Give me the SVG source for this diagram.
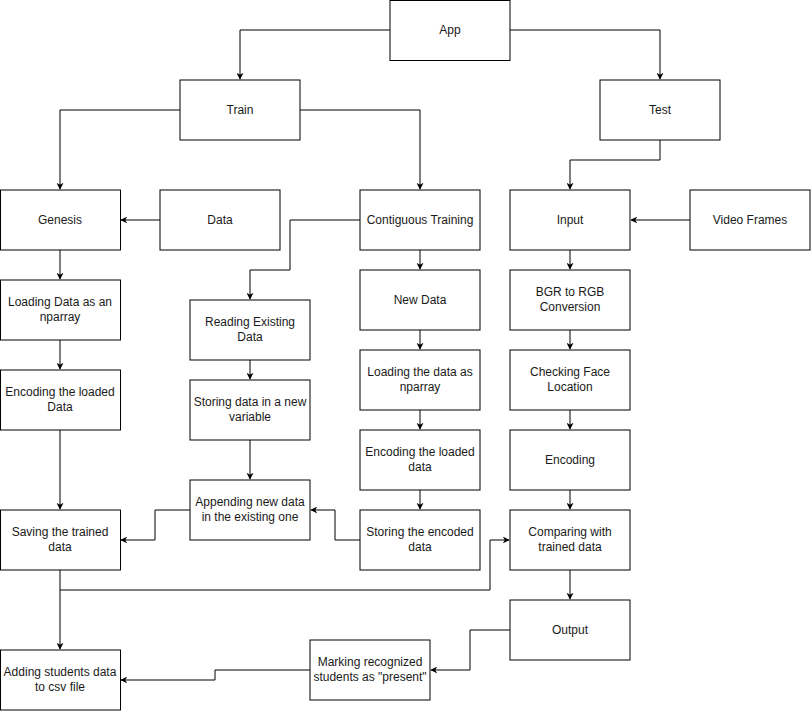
<svg xmlns="http://www.w3.org/2000/svg" width="811" height="711" viewBox="0 0 811 711">
<defs>
<marker id="arr" viewBox="0 0 10 10" refX="9" refY="5" markerWidth="7" markerHeight="7" markerUnits="userSpaceOnUse" orient="auto">
<path d="M0,0 L10,5 L0,10 L3,5 Z" fill="#000"/>
</marker>
<style>
.n rect{fill:#fff;stroke:#000;stroke-width:1}
.n text{font-family:"Liberation Sans",Arial,sans-serif;font-size:12px;fill:#1a1a1a;text-anchor:middle}
#edges path{fill:none;stroke:#000;stroke-width:1;marker-end:url(#arr)}
</style>
</defs>
<rect width="811" height="711" fill="#fff"/>
<g id="edges">
<path d="M390,30 H240 V79"/>
<path d="M510,30 H660 V79"/>
<path d="M180,110 H60 V189"/>
<path d="M300,110 H420 V189"/>
<path d="M660,140 V160 H570 V189"/>
<path d="M160,220 H121"/>
<path d="M690,220 H631"/>
<path d="M360,220 H290 V270 H250 V299"/>
<path d="M420,250 V269"/>
<path d="M60,250 V279"/>
<path d="M60,340 V369"/>
<path d="M60,430 V509"/>
<path d="M60,570 V649"/>
<path d="M60,590 H490 V540 H509"/>
<path d="M250,360 V379"/>
<path d="M250,440 V479"/>
<path d="M190,510 H155 V540 H121"/>
<path d="M360,540 H335 V510 H311"/>
<path d="M420,330 V349"/>
<path d="M420,410 V429"/>
<path d="M420,490 V509"/>
<path d="M570,250 V269"/>
<path d="M570,330 V349"/>
<path d="M570,410 V429"/>
<path d="M570,490 V509"/>
<path d="M570,570 V599"/>
<path d="M510,630 H470 V670 H431"/>
<path d="M310,670 H215 V680 H121"/>
</g>
<g id="app" class="n"><rect x="390" y="0.5" width="120" height="60"/><text x="450" y="34">App</text></g>
<g id="train" class="n"><rect x="180" y="80" width="120" height="60"/><text x="240" y="114">Train</text></g>
<g id="test" class="n"><rect x="600" y="80" width="120" height="60"/><text x="660" y="114">Test</text></g>
<g id="genesis" class="n"><rect x="0.5" y="190" width="120" height="60"/><text x="60" y="224">Genesis</text></g>
<g id="data" class="n"><rect x="160" y="190" width="120" height="60"/><text x="220" y="224">Data</text></g>
<g id="contiguous" class="n"><rect x="360" y="190" width="120" height="60"/><text x="420" y="224">Contiguous Training</text></g>
<g id="input" class="n"><rect x="510" y="190" width="120" height="60"/><text x="570" y="224">Input</text></g>
<g id="video" class="n"><rect x="690" y="190" width="120" height="60"/><text x="750" y="224">Video Frames</text></g>
<g id="loading1" class="n"><rect x="0.5" y="280" width="120" height="60"/><text x="60" y="306">Loading Data as an</text><text x="60" y="321">nparray</text></g>
<g id="encoding1" class="n"><rect x="0.5" y="370" width="120" height="60"/><text x="60" y="396">Encoding the loaded</text><text x="60" y="411">Data</text></g>
<g id="saving" class="n"><rect x="0.5" y="510" width="120" height="60"/><text x="60" y="536">Saving the trained</text><text x="60" y="551">data</text></g>
<g id="adding" class="n"><rect x="0.5" y="650" width="120" height="60"/><text x="60" y="676">Adding students data</text><text x="60" y="691">to csv file</text></g>
<g id="reading" class="n"><rect x="190" y="300" width="120" height="60"/><text x="250" y="326">Reading Existing</text><text x="250" y="341">Data</text></g>
<g id="storing1" class="n"><rect x="190" y="380" width="120" height="60"/><text x="250" y="406">Storing data in a new</text><text x="250" y="421">variable</text></g>
<g id="appending" class="n"><rect x="190" y="480" width="120" height="60"/><text x="250" y="506">Appending new data</text><text x="250" y="521">in the existing one</text></g>
<g id="newdata" class="n"><rect x="360" y="270" width="120" height="60"/><text x="420" y="304">New Data</text></g>
<g id="loading2" class="n"><rect x="360" y="350" width="120" height="60"/><text x="420" y="376">Loading the data as</text><text x="420" y="391">nparray</text></g>
<g id="encoding2" class="n"><rect x="360" y="430" width="120" height="60"/><text x="420" y="456">Encoding the loaded</text><text x="420" y="471">data</text></g>
<g id="storing2" class="n"><rect x="360" y="510" width="120" height="60"/><text x="420" y="536">Storing the encoded</text><text x="420" y="551">data</text></g>
<g id="bgr" class="n"><rect x="510" y="270" width="120" height="60"/><text x="570" y="296">BGR to RGB</text><text x="570" y="311">Conversion</text></g>
<g id="checking" class="n"><rect x="510" y="350" width="120" height="60"/><text x="570" y="376">Checking Face</text><text x="570" y="391">Location</text></g>
<g id="encoding3" class="n"><rect x="510" y="430" width="120" height="60"/><text x="570" y="464">Encoding</text></g>
<g id="comparing" class="n"><rect x="510" y="510" width="120" height="60"/><text x="570" y="536">Comparing with</text><text x="570" y="551">trained data</text></g>
<g id="output" class="n"><rect x="510" y="600" width="120" height="60"/><text x="570" y="634">Output</text></g>
<g id="marking" class="n"><rect x="310" y="640" width="120" height="60"/><text x="370" y="666">Marking recognized</text><text x="370" y="681">students as "present"</text></g>
</svg>
